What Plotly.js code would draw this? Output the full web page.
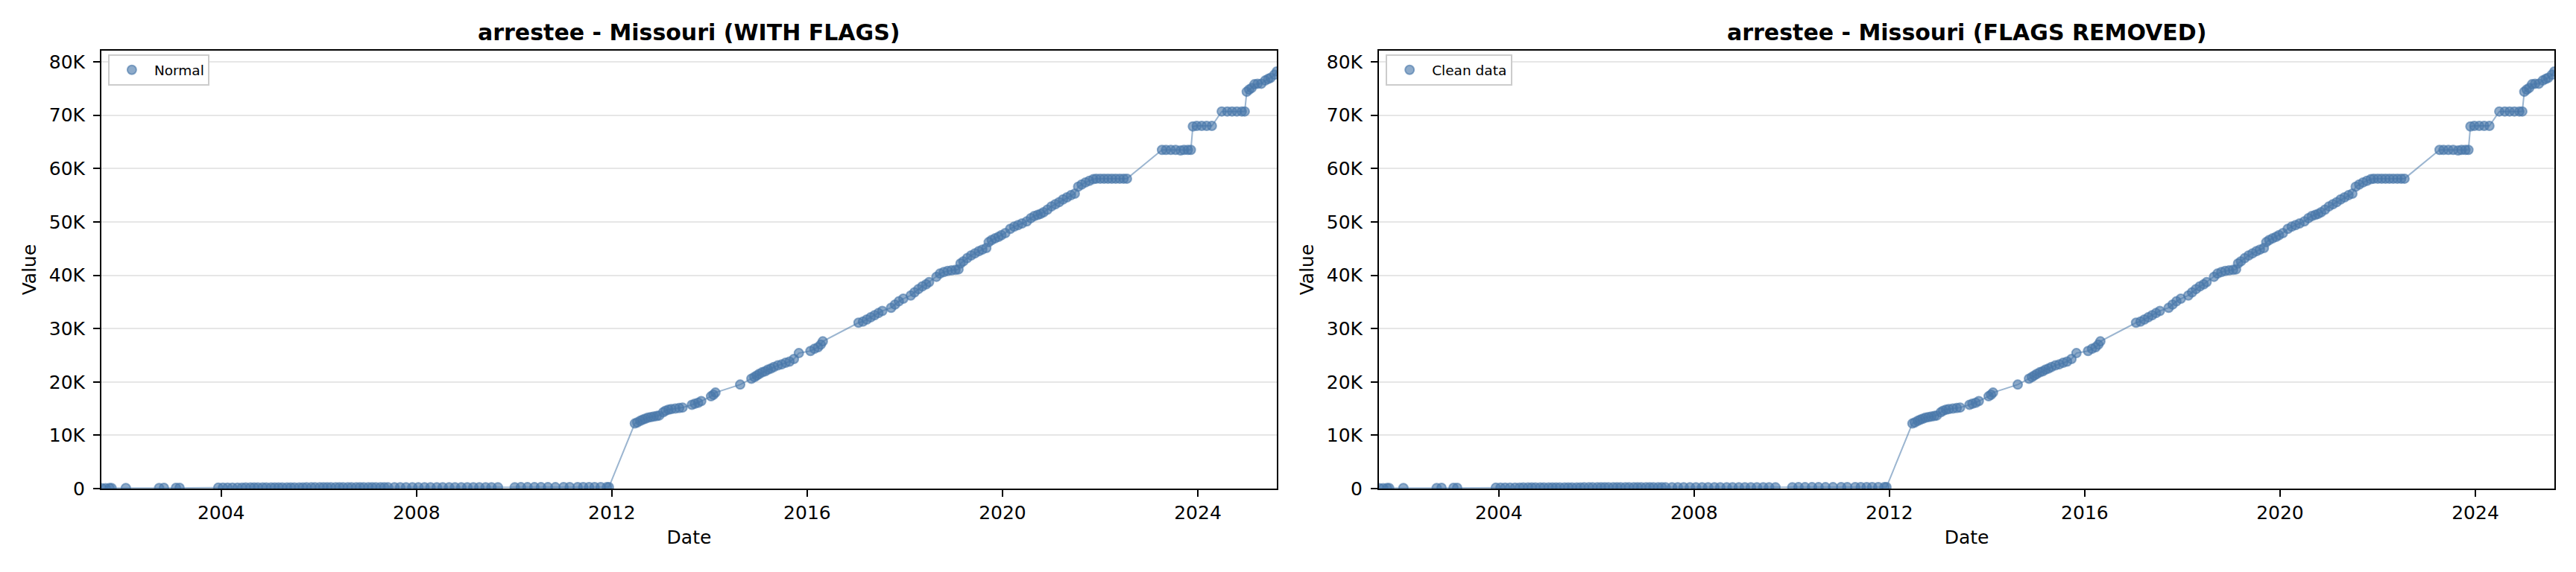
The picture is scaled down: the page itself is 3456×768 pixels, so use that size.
<!DOCTYPE html>
<html>
<head>
<meta charset="utf-8">
<script src="https://cdn.plot.ly/plotly-3.0.1.min.js"></script>
<style>html,body{margin:0;padding:0;background:#fff;}#chart{width:3456px;height:768px;}</style>
</head>
<body>
<div id="chart"></div>
<script>
// ---- Data (cumulative value over time) ----
const earlyDates = [
"2001-07-22","2001-08-20","2001-09-18","2001-10-03","2002-01-18","2002-09-24","2002-10-30","2003-01-28","2003-02-24",
"2003-12-10","2004-01-14","2004-02-18","2004-03-25","2004-05-02",
"2004-06-05","2004-07-03","2004-08-07","2004-09-04","2004-10-02","2004-11-06","2004-12-04",
"2005-01-08","2005-02-05","2005-03-05","2005-04-02","2005-05-07","2005-06-04","2005-07-02","2005-08-06","2005-09-03","2005-10-01","2005-11-05","2005-12-03",
"2006-01-07","2006-02-04","2006-03-04","2006-04-01","2006-05-06","2006-06-03","2006-07-01","2006-08-05","2006-09-02","2006-10-07","2006-11-04","2006-12-02",
"2007-01-06","2007-02-03","2007-03-03","2007-04-07","2007-05-05","2007-06-02",
"2007-07-20","2007-09-01","2007-10-15","2007-12-01","2008-01-15","2008-03-01","2008-04-15","2008-06-01","2008-07-15",
"2008-09-01","2008-10-15","2008-12-01","2009-01-15","2009-03-01","2009-04-15","2009-06-01","2009-07-15","2009-09-01",
"2010-01-05","2010-02-20","2010-04-10","2010-06-01","2010-07-20","2010-09-10","2010-11-05",
"2011-01-05","2011-02-20","2011-04-20","2011-06-01","2011-07-15","2011-08-25","2011-10-10","2011-11-25","2011-12-10"
];
const earlyValues = [
60,80,90,100,110,120,130,140,150,
160,170,175,180,185,
190,195,200,200,205,205,210,
210,215,215,220,220,220,225,225,225,230,230,230,
230,235,235,235,235,240,240,240,240,240,245,245,
245,245,245,245,250,250,
250,250,250,250,250,255,255,255,255,
255,255,255,260,260,260,260,260,260,
260,265,265,265,265,265,265,
270,270,270,270,270,270,270,270,270
];
const riseDates = [
"2012-06-21","2012-07-09","2012-07-31","2012-08-18","2012-09-06","2012-09-27","2012-10-19","2012-11-10","2012-12-02","2012-12-20",
"2013-01-19","2013-02-06","2013-02-28","2013-03-21","2013-04-20","2013-05-19","2013-06-13","2013-08-22","2013-09-13","2013-10-08","2013-10-31",
"2014-01-12","2014-01-30","2014-02-14","2014-08-18","2014-11-10","2014-12-02","2014-12-20",
"2015-01-08","2015-01-30","2015-02-21","2015-03-14","2015-04-05","2015-04-27","2015-05-27","2015-06-25","2015-07-24","2015-08-22","2015-09-24","2015-10-31",
"2016-01-26","2016-02-24","2016-03-22","2016-04-12","2016-04-27",
"2017-01-19","2017-02-21","2017-03-22","2017-04-20","2017-05-19","2017-06-17","2017-07-16","2017-09-20","2017-10-19","2017-11-17","2017-12-20",
"2018-02-14","2018-03-14","2018-04-12","2018-05-11","2018-06-09","2018-07-01","2018-08-25","2018-09-20","2018-10-19","2018-11-17","2018-12-16",
"2019-01-15","2019-02-06","2019-02-21","2019-03-14","2019-04-12","2019-05-11","2019-06-09","2019-07-08","2019-08-03","2019-09-02","2019-09-20","2019-10-12","2019-11-06","2019-12-02","2019-12-24",
"2020-01-22","2020-02-28","2020-03-28","2020-04-26","2020-05-26","2020-07-01","2020-07-31","2020-08-26","2020-09-20","2020-10-12","2020-11-03","2020-12-02",
"2021-01-01","2021-01-30","2021-02-28","2021-03-29","2021-04-27","2021-05-27","2021-06-25","2021-07-20","2021-08-15","2021-09-13","2021-10-12","2021-11-10","2021-12-02",
"2022-01-01","2022-01-30","2022-02-28","2022-03-29","2022-04-27","2022-05-27","2022-06-25","2022-07-20"
];
const riseValues = [
12200,12400,12700,12900,13100,13300,13400,13500,13600,13700,
14300,14600,14800,14900,15000,15100,15200,15700,15900,16100,16400,
17300,17600,18000,19500,20600,20900,21200,
21500,21800,22000,22300,22500,22800,23100,23300,23600,23800,24300,25400,
25800,26200,26500,27000,27600,
31100,31300,31700,32100,32500,32900,33300,33900,34500,35100,35600,
36200,36800,37400,37900,38300,38700,39700,40300,40600,40800,40900,
41000,41100,42200,42600,43200,43700,44100,44500,44800,45100,46200,46600,46900,47200,47500,
47900,48700,49100,49400,49700,50100,50700,51100,51300,51500,51800,52300,
52900,53300,53700,54200,54600,55000,55300,56600,57000,57400,57700,58000,58100,
58100,58100,58100,58100,58100,58100,58100,58100
];
const lateDates = [
"2023-04-08","2023-05-08","2023-06-13","2023-07-19","2023-08-25","2023-09-20","2023-10-19","2023-11-10",
"2023-11-25","2023-12-24","2024-01-30","2024-03-07","2024-04-15",
"2024-06-28","2024-08-08","2024-09-13","2024-10-19","2024-11-25","2024-12-17",
"2025-01-01","2025-01-19","2025-02-06","2025-02-28","2025-03-23","2025-04-20","2025-05-19","2025-06-10","2025-06-28","2025-07-27","2025-08-14"
];
const lateValues = [
63500,63500,63500,63500,63400,63500,63500,63500,
67900,68000,68000,68000,68000,
70700,70700,70700,70700,70700,70700,
74400,74800,75100,75800,75900,75900,76500,76800,77000,77600,78200
];
const xTickVals = ["2004-01-01","2008-01-01","2012-01-01","2016-01-01","2020-01-01","2024-01-01"];
const xTickText = ["2004","2008","2012","2016","2020","2024"];
const yTickVals = [0,10000,20000,30000,40000,50000,60000,70000,80000];
const yTickText = ["0","10K","20K","30K","40K","50K","60K","70K","80K"];
const panelTitles = ["arrestee - Missouri (WITH FLAGS)", "arrestee - Missouri (FLAGS REMOVED)"];
const legendNames = ["Normal", "Clean data"];

const dates = earlyDates.concat(riseDates, lateDates);
const values = earlyValues.concat(riseValues, lateValues);

const markerColor = 'rgba(72,120,170,0.62)';
const lineColor = 'rgba(72,120,170,0.55)';

function traces(xa, ya, name, leg) {
  return [
    {x: dates, y: values, xaxis: xa, yaxis: ya, type: 'scatter', mode: 'lines',
     line: {color: lineColor, width: 2}, showlegend: false, hoverinfo: 'skip'},
    {x: dates, y: values, xaxis: xa, yaxis: ya, type: 'scatter', mode: 'markers', name: name, legend: leg,
     marker: {size: 12, color: markerColor, line: {color: markerColor, width: 2}}}
  ];
}

const data = [].concat(traces('x', 'y', legendNames[0], 'legend'), traces('x2', 'y2', legendNames[1], 'legend2'));

const font = {family: 'DejaVu Sans', size: 25, color: '#000'};
function xAxis(dom, anchor) {
  return {domain: dom, anchor: anchor, type: 'date', range: ['2001-07-19', '2025-08-14'],
    tickvals: xTickVals, ticktext: xTickText, ticks: 'outside', ticklen: 9, tickwidth: 2, tickcolor: '#000',
    showline: true, linecolor: '#000', linewidth: 2, mirror: true, showgrid: false, zeroline: false,
    tickfont: font, title: {text: 'Date', font: font, standoff: 10}};
}
function yAxis(anchor) {
  return {anchor: anchor, range: [0, 82100], tickvals: yTickVals, ticktext: yTickText,
    ticks: 'outside', ticklen: 9, tickwidth: 2, tickcolor: '#000', ticklabelstandoff: 6,
    showline: true, linecolor: '#000', linewidth: 2, mirror: true,
    showgrid: true, gridcolor: '#e6e6e6', gridwidth: 2, zeroline: false,
    tickfont: font, title: {text: 'Value', font: font, standoff: 10}};
}
const legendBase = {xanchor: 'left', yanchor: 'top', y: 0.991, bgcolor: '#fff', bordercolor: '#cccccc', borderwidth: 2,
  font: {family: 'DejaVu Sans', size: 18.5, color: '#000'}, itemwidth: 50};

const layout = {
  width: 3456, height: 768, paper_bgcolor: '#fff', plot_bgcolor: '#fff',
  margin: {l: 136, r: 29, t: 68, b: 112},
  font: font, showlegend: true,
  xaxis: xAxis([0, 0.47919], 'y'),
  yaxis: yAxis('x'),
  xaxis2: xAxis([0.52082, 1], 'y2'),
  yaxis2: yAxis('x2'),
  legend: Object.assign({x: 0.0027}, legendBase),
  legend2: Object.assign({x: 0.5236}, legendBase),
  annotations: panelTitles.map((t, i) => ({
    text: t, xref: (i === 0 ? 'x' : 'x2') + ' domain', yref: (i === 0 ? 'y' : 'y2') + ' domain',
    x: 0.5, y: 1, xanchor: 'center', yanchor: 'bottom', yshift: 5, showarrow: false,
    font: {family: 'DejaVu Sans', size: 30, color: '#000', weight: 'bold'}
  }))
};

Plotly.newPlot('chart', data, layout, {displayModeBar: false, staticPlot: true});
</script>
</body>
</html>
